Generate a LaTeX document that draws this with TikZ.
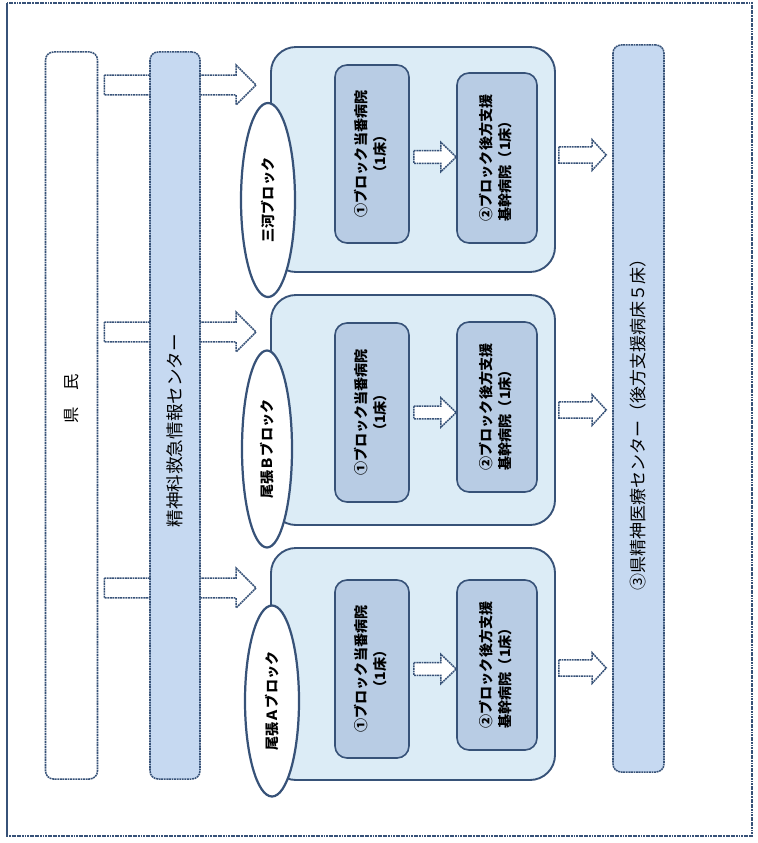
\documentclass[tikz,border=0pt]{standalone}
\usepackage{fontspec}
\setmainfont{Noto Sans CJK JP}
\usepackage{tikz}
\usetikzlibrary{calc,shapes.geometric,backgrounds}
\definecolor{edgeblue}{RGB}{55,82,120}
\definecolor{barblue}{RGB}{198,217,241}
\definecolor{blockblue}{RGB}{220,236,246}
\definecolor{boxblue}{RGB}{184,204,228}

% hollow block arrow: tail, tip, half shaft, half head, head length
\newcommand{\fatarrow}[5]{%
  \draw[arrowbox] let \p1=(#1), \p2=(#2) in
    (\x1,\y1+#3) -- (\x2-#5,\y1+#3) -- (\x2-#5,\y1+#4) -- (\x2,\y1)
    -- (\x2-#5,\y1-#4) -- (\x2-#5,\y1-#3) -- (\x1,\y1-#3) -- cycle;}

\begin{document}
\begin{tikzpicture}[x=0.03cm,y=-0.03cm]
  \tikzstyle{fine}=[dash pattern=on 1.6pt off 0.6pt]
  \tikzstyle{bar}=[draw=edgeblue,line width=1.3pt,fine,rounded corners=0.24cm,minimum width=1.56cm,minimum height=21.81cm,inner sep=0pt]
  \tikzstyle{block}=[draw=edgeblue,line width=1.6pt,fill=blockblue,rounded corners=0.75cm,minimum width=8.52cm,inner sep=0pt]
  \tikzstyle{area}=[ellipse,draw=edgeblue,line width=1.9pt,fill=white,minimum width=1.62cm,minimum height=5.82cm,inner sep=0pt,font=\fontsize{12}{14}\selectfont\bfseries]
  \tikzstyle{hosp}=[draw=edgeblue,line width=1.4pt,fill=boxblue,rounded corners=0.36cm,inner sep=0pt,font=\fontsize{12}{17}\selectfont\bfseries]
  \tikzstyle{arrowbox}=[draw=edgeblue,line width=1.3pt,fine,fill=white]
  \useasboundingbox (0,0) rectangle (757,843);
  \draw[edgeblue,fine,line width=0.9pt] (7,3) rectangle (752,836);
  \draw[edgeblue,line width=1.4pt] (7,3) -- (7,836);

  % left bars
  \node[bar,fill=white,font=\fontsize{14}{16}\selectfont] (kenmin) at (71.5,415.5) {\rotatebox{90}{\hspace*{28pt}県　民}};
  \node[bar,fill=barblue,minimum width=1.5cm,font=\fontsize{15}{17}\selectfont] (info) at (175,415.5) {\rotatebox{90}{精神科救急情報センター\hspace*{26pt}}};
  \node[bar,fill=barblue,minimum width=1.53cm,font=\fontsize{14.5}{17}\selectfont] (pref) at (638.5,408.5) {\rotatebox{90}{③県精神医療センター（後方支援病床５床）\hspace*{20pt}}};

  % blocks
  \node[block,minimum height=6.75cm] (mikawa) at (413,159.5) {};
  \node[block,minimum height=6.9cm] (owarib) at (413,410) {};
  \node[block,minimum height=6.96cm] (owaria) at (413,664) {};

  \node[area] (mikawalab) at (268,200) {\rotatebox{90}{三河ブロック}};
  \node[area,minimum width=1.5cm,minimum height=5.91cm] (owariblab) at (267,449) {\rotatebox{90}{尾張Ｂブロック}};
  \node[area,minimum height=5.73cm] (owarialab) at (272,701) {\rotatebox{90}{尾張Ａブロック}};

  % hospitals
  \node[hosp,minimum width=2.22cm,minimum height=5.34cm] (m1) at (372,154) {\rotatebox{90}{\begin{tabular}{@{}c@{}}①ブロック当番病院\\（1床）\end{tabular}}};
  \node[hosp,minimum width=2.4cm,minimum height=5.1cm] (m2) at (497,158) {\rotatebox{90}{\begin{tabular}{@{}l@{}}②ブロック後方支援\\基幹病院（1床）\end{tabular}}};
  \node[hosp,minimum width=2.22cm,minimum height=5.37cm] (b1) at (372,412.5) {\rotatebox{90}{\begin{tabular}{@{}c@{}}①ブロック当番病院\\（1床）\end{tabular}}};
  \node[hosp,minimum width=2.4cm,minimum height=5.1cm] (b2) at (497,407) {\rotatebox{90}{\begin{tabular}{@{}l@{}}②ブロック後方支援\\基幹病院（1床）\end{tabular}}};
  \node[hosp,minimum width=2.22cm,minimum height=5.34cm] (a1) at (372,669) {\rotatebox{90}{\begin{tabular}{@{}c@{}}①ブロック当番病院\\（1床）\end{tabular}}};
  \node[hosp,minimum width=2.4cm,minimum height=5.1cm] (a2) at (497,665) {\rotatebox{90}{\begin{tabular}{@{}l@{}}②ブロック後方支援\\基幹病院（1床）\end{tabular}}};

  % arrows
  \coordinate (k1) at ($(kenmin.east |- 0,85)+(6,0)$);
  \coordinate (k2) at ($(kenmin.east |- 0,332)+(6,0)$);
  \coordinate (k3) at ($(kenmin.east |- 0,588)+(6,0)$);
  \begin{scope}[on background layer]
    \fatarrow{k1}{$(mikawa.west |- k1)+(-14,0)$}{8.5pt}{17pt}{17pt}
    \fatarrow{k2}{$(owarib.west |- k2)+(-14,0)$}{8.5pt}{17pt}{17pt}
    \fatarrow{k3}{$(owaria.west |- k3)+(-14,0)$}{8.5pt}{17pt}{17pt}
  \end{scope}
  \fatarrow{$(m1.east)+(4,3)$}{$(m2.west |- m1.east)+(0,3)$}{5.5pt}{12.5pt}{13pt}
  \fatarrow{$(b1.east)+(4,0)$}{$(b2.west |- b1.east)$}{5.5pt}{12.5pt}{13pt}
  \fatarrow{$(a1.east)+(4,0)$}{$(a2.west |- a1.east)$}{5.5pt}{12.5pt}{13pt}
  \coordinate (r1) at ($(mikawa.east |- 0,155)+(3,0)$);
  \coordinate (r2) at ($(owarib.east |- 0,410)+(3,0)$);
  \coordinate (r3) at ($(owaria.east |- 0,668)+(3,0)$);
  \fatarrow{r1}{$(pref.west |- r1)+(-6,0)$}{7pt}{13pt}{12pt}
  \fatarrow{r2}{$(pref.west |- r2)+(-6,0)$}{7pt}{13pt}{12pt}
  \fatarrow{r3}{$(pref.west |- r3)+(-6,0)$}{7pt}{13pt}{12pt}
\end{tikzpicture}
\end{document}
